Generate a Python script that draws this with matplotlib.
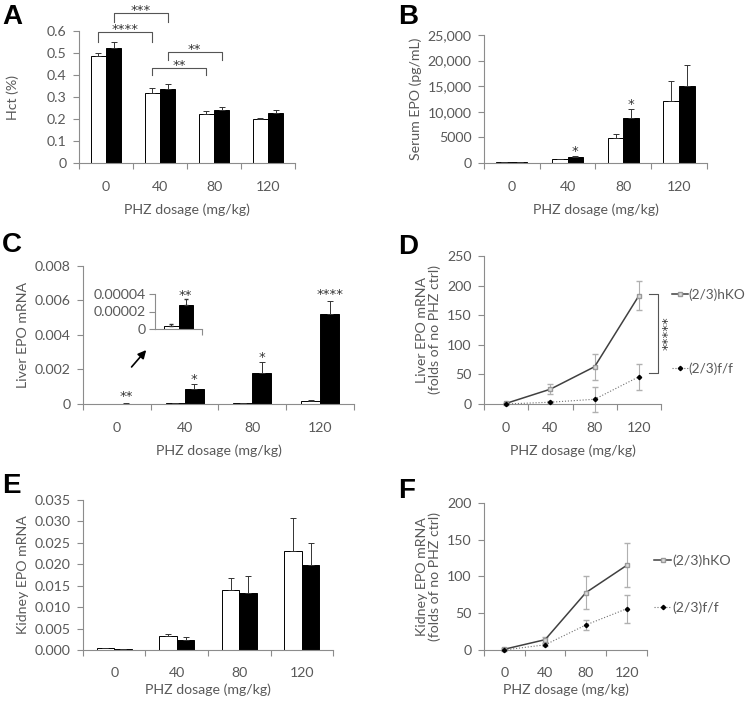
import numpy as np
import matplotlib
matplotlib.use('Agg')
import matplotlib.pyplot as plt

plt.rcParams['font.family'] = ['Lato', 'DejaVu Sans']
plt.rcParams['font.size'] = 10
TXT = '#595959'
AX = '#8c8c8c'
FS = 10.2
STAR = dict(family='DejaVu Sans', fontsize=9.5, color='#333333', ha='center', va='center')

doses = ['0', '40', '80', '120']
xlab = 'PHZ dosage (mg/kg)'

# A: hematocrit
hct_ff = [0.485, 0.320, 0.225, 0.200]
hct_ff_err = [0.015, 0.020, 0.010, 0.007]
hct_ko = [0.520, 0.338, 0.242, 0.228]
hct_ko_err = [0.030, 0.022, 0.013, 0.013]

# B: serum EPO
sepo_ff = [150, 700, 4800, 12100]
sepo_ff_err = [40, 120, 900, 4000]
sepo_ko = [200, 1150, 8800, 15000]
sepo_ko_err = [50, 120, 1700, 4200]

# C: liver EPO mRNA
lepo_ff = [0.000004, 0.00003, 0.00004, 0.00019]
lepo_ff_err = [0.0000015, 0.00001, 0.00001, 0.00002]
lepo_ko = [0.000028, 0.00087, 0.0018, 0.0052]
lepo_ko_err = [0.000006, 0.00028, 0.00062, 0.00075]

# D: liver EPO fold change
lfold_ko = [1, 25, 63, 183]
lfold_ko_err = [1, 8, 22, 25]
lfold_ff = [0, 3, 8, 46]
lfold_ff_err = [1, 2, 21, 22]

# E: kidney EPO mRNA
kepo_ff = [0.0004, 0.0032, 0.0140, 0.0230]
kepo_ff_err = [0.0001, 0.0005, 0.0028, 0.0078]
kepo_ko = [0.0002, 0.0024, 0.0132, 0.0198]
kepo_ko_err = [0.00005, 0.0007, 0.0040, 0.0052]

# F: kidney EPO fold change
kfold_ko = [1, 14, 78, 115]
kfold_ko_err = [1, 4, 22, 30]
kfold_ff = [0, 7, 34, 56]
kfold_ff_err = [1, 2, 7, 19]

fig = plt.figure(figsize=(7.47, 7.01), dpi=100)


def style(ax, n=4):
    for s in ['top', 'right']:
        ax.spines[s].set_visible(False)
    for s in ['left', 'bottom']:
        ax.spines[s].set_color(AX)
        ax.spines[s].set_linewidth(0.8)
    ax.set_xlim(-0.5, n - 0.5)
    ax.set_xticks(range(n))
    ax.set_xticks(np.arange(-0.5, n, 1.0), minor=True)
    ax.tick_params(axis='x', which='major', length=0, pad=13, colors=TXT, labelsize=FS)
    ax.tick_params(axis='x', which='minor', length=4, width=0.8, color=AX, direction='out')
    ax.tick_params(axis='y', length=4, width=0.8, color=AX, colors=TXT, labelsize=FS, pad=5)


def bars(ax, ff, ffe, ko, koe, lp=7.5):
    x = np.arange(len(ff))
    w = 0.28
    ax.bar(x - w / 2, ff, w, color='white', edgecolor='black', linewidth=0.7,
           yerr=[np.zeros(len(ff)), ffe], ecolor='#333333',
           error_kw=dict(capsize=2, elinewidth=0.7, capthick=0.7))
    ax.bar(x + w / 2, ko, w, color='black', edgecolor='black', linewidth=0.7,
           yerr=[np.zeros(len(ko)), koe], ecolor='#333333',
           error_kw=dict(capsize=2, elinewidth=0.7, capthick=0.7))
    ax.set_xticklabels(doses)
    ax.set_xlabel(xlab, color=TXT, fontsize=FS, labelpad=lp)


def lines(ax, ko, koe, ff, ffe, lp=7.5):
    x = np.arange(len(ko))
    ax.errorbar(x, ko, yerr=koe, fmt='none', ecolor='#b0b0b0', elinewidth=0.8,
                capsize=2, clip_on=False)
    ax.errorbar(x, ff, yerr=ffe, fmt='none', ecolor='#b0b0b0', elinewidth=0.8,
                capsize=2, clip_on=False)
    ax.plot(x, ko, color='#404040', lw=1.1, marker='s', ms=2.4, mfc='#dddddd',
            mec='#999999', label='(2/3)hKO', clip_on=False, zorder=3)
    ax.plot(x, ff, color='#707070', lw=0.8, ls=':', marker='D', ms=2.2, mfc='black',
            mec='black', label='(2/3)f/f', clip_on=False, zorder=3)
    ax.set_xticklabels(doses)
    ax.set_xlabel(xlab, color=TXT, fontsize=FS, labelpad=lp)


def letter(x, y, s):
    fig.text(x / 747, 1 - y / 701, s, fontsize=20, fontweight='bold',
             family='Liberation Sans', va='top', ha='left')


def stars(ax, x, y, s, dy, **kw):
    ax.annotate(s, xy=(x, y), xytext=(0, dy), textcoords='offset points',
                annotation_clip=False, **{**STAR, **kw})


def bracket(ax, x0, x1, y, y0, y1, s):
    ax.plot([x0, x0, x1, x1], [y0, y, y, y1], color='#555555', lw=0.8, clip_on=False)
    stars(ax, (x0 + x1) / 2, y, s, 1.5)


# ---- A
axA = fig.add_axes([0.1058, 0.767, 0.2892, 0.1892])
style(axA)
bars(axA, hct_ff, hct_ff_err, hct_ko, hct_ko_err)
axA.set_ylim(0, 0.6)
axA.set_yticks(np.arange(0, 0.61, 0.1))
axA.set_yticklabels(['0', '0.1', '0.2', '0.3', '0.4', '0.5', '0.6'])
axA.set_ylabel('Hct (%)', color=TXT, fontsize=FS, labelpad=20)
bracket(axA, -0.14, 0.86, 0.594, 0.55, 0.55, '****')
bracket(axA, 0.14, 1.14, 0.680, 0.64, 0.64, '***')
bracket(axA, 0.86, 1.86, 0.431, 0.40, 0.40, '**')
bracket(axA, 1.14, 2.14, 0.504, 0.467, 0.467, '**')
letter(2, 4, 'A')

# ---- B
axB = fig.add_axes([0.6479, 0.7675, 0.2985, 0.1826])
style(axB)
bars(axB, sepo_ff, sepo_ff_err, sepo_ko, sepo_ko_err)
axB.set_ylim(0, 25000)
axB.set_yticks(np.arange(0, 25001, 5000))
axB.set_yticklabels(['0', '5000', '10,000', '15,000', '20,000', '25,000'])
axB.set_ylabel('Serum EPO (pg/mL)', color=TXT, fontsize=FS)
for i in [1, 2]:
    stars(axB, i + 0.14, sepo_ko[i] + sepo_ko_err[i], '*', 3.7)
letter(398, 4, 'B')

# ---- C
axC = fig.add_axes([0.1111, 0.4237, 0.3628, 0.1973])
style(axC)
bars(axC, lepo_ff, lepo_ff_err, lepo_ko, lepo_ko_err)
axC.set_ylim(0, 0.008)
axC.set_yticks(np.arange(0, 0.0081, 0.002))
axC.set_yticklabels(['0', '0.002', '0.004', '0.006', '0.008'])
axC.set_ylabel('Liver EPO mRNA', color=TXT, fontsize=FS)
c_stars = ['**', '*', '*', '****']
c_dy = [4.8, 3.0, 3.0, 4.5]
for i in range(4):
    stars(axC, i + 0.14, lepo_ko[i] + lepo_ko_err[i], c_stars[i], c_dy[i])
axC.annotate('', xy=(0.46, 0.00324), xytext=(0.19, 0.00202),
             arrowprops=dict(arrowstyle='-|>', color='black', lw=1.2, mutation_scale=12))
letter(2, 232, 'C')

# inset: 0 mg/kg values
axI = fig.add_axes([155 / 747, 1 - 329 / 701, 47 / 747, 35 / 701])
for s in ['top', 'right']:
    axI.spines[s].set_visible(False)
for s in ['left', 'bottom']:
    axI.spines[s].set_color(AX)
    axI.spines[s].set_linewidth(0.8)
axI.bar(-0.15, lepo_ff[0], 0.3, color='white', edgecolor='black', linewidth=0.7,
        yerr=[[0], [lepo_ff_err[0]]], ecolor='#333333', error_kw=dict(capsize=1.5, elinewidth=0.7))
axI.bar(0.15, lepo_ko[0], 0.3, color='black', edgecolor='black', linewidth=0.7,
        yerr=[[0], [lepo_ko_err[0]]], ecolor='#333333', error_kw=dict(capsize=1.5, elinewidth=0.7))
axI.set_xlim(-0.5, 0.5)
axI.set_ylim(0, 0.00004)
axI.set_xticks([0.5])
axI.set_xticklabels([''])
axI.set_yticks([0, 0.00002, 0.00004])
axI.set_yticklabels(['0', '0.00002', '0.00004'])
axI.tick_params(axis='x', length=4, width=0.8, color=AX, direction='out')
axI.tick_params(axis='y', length=4, width=0.8, color=AX, colors=TXT, labelsize=FS, pad=3)
stars(axI, 0.15, lepo_ko[0] + lepo_ko_err[0], '**', 2.7)
axI.patch.set_alpha(0)

# ---- D
axD = fig.add_axes([0.6479, 0.4237, 0.2370, 0.2111])
style(axD)
lines(axD, lfold_ko, lfold_ko_err, lfold_ff, lfold_ff_err)
axD.set_ylim(0, 250)
axD.set_yticks(np.arange(0, 251, 50))
axD.set_ylabel('Liver EPO mRNA\n(folds of no PHZ ctrl)', color=TXT, fontsize=FS,
               linespacing=1.1)
axD.plot([3.23, 3.43, 3.43, 3.23], [186, 186, 52, 52], color='#555555', lw=0.8,
         clip_on=False)
axD.text(3.665, 119, '*****', rotation=90, **STAR)
axD.legend(loc='upper left', bbox_to_anchor=(1.06, 0.78), frameon=False, borderpad=0,
           borderaxespad=0, handlelength=1.2, handletextpad=0.05, labelspacing=4.5,
           fontsize=9.8, labelcolor=TXT)
letter(398, 234, 'D')

# ---- E
axE = fig.add_axes([0.1111, 0.0728, 0.3347, 0.2140])
style(axE)
axE.tick_params(axis='x', which='major', pad=12)
bars(axE, kepo_ff, kepo_ff_err, kepo_ko, kepo_ko_err, lp=3.5)
axE.set_ylim(0, 0.035)
axE.set_yticks(np.arange(0, 0.0351, 0.005))
axE.set_yticklabels([f'{v:.3f}' for v in np.arange(0, 0.0351, 0.005)])
axE.set_ylabel('Kidney EPO mRNA', color=TXT, fontsize=FS)
letter(2, 473, 'E')

# ---- F
axF = fig.add_axes([0.6479, 0.0728, 0.2182, 0.2097])
style(axF)
axF.tick_params(axis='x', which='major', pad=12)
lines(axF, kfold_ko, kfold_ko_err, kfold_ff, kfold_ff_err, lp=3.5)
axF.set_ylim(0, 200)
axF.set_yticks(np.arange(0, 201, 50))
axF.set_ylabel('Kidney EPO mRNA\n(folds of no PHZ ctrl)', color=TXT, fontsize=FS,
               linespacing=1.1)
axF.legend(loc='upper left', bbox_to_anchor=(1.045, 0.65), frameon=False, borderpad=0,
           borderaxespad=0, handlelength=1.2, handletextpad=0.05, labelspacing=2.4,
           fontsize=FS, labelcolor=TXT)
letter(398, 478, 'F')

fig.savefig('out.png', dpi=100)
